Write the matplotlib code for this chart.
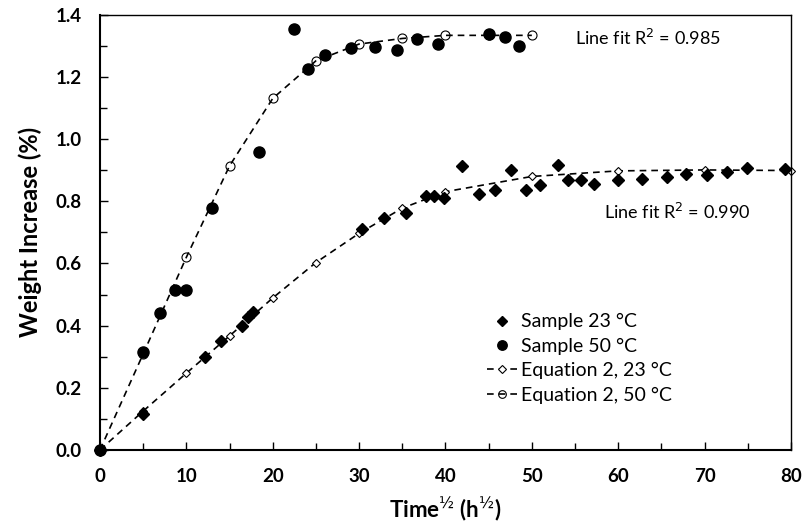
import matplotlib
matplotlib.use("Agg")
import matplotlib.pyplot as plt
from matplotlib.ticker import MultipleLocator

plt.rcParams['font.family'] = ['Lato', 'DejaVu Sans']

# Measured data
x23 = [0, 5.0, 12.15, 14.0, 16.4, 17.1, 17.7, 30.3, 32.9, 35.4, 37.7, 38.7, 39.85, 41.9, 43.9,
       45.7, 47.6, 49.3, 50.96, 53.0, 54.2, 55.7, 57.2, 60.0, 62.8, 65.6, 67.9, 70.3, 72.6, 74.9, 79.3]
y23 = [0, 0.116, 0.300, 0.350, 0.399, 0.427, 0.443, 0.710, 0.747, 0.763, 0.816, 0.816, 0.812, 0.913, 0.824,
       0.838, 0.901, 0.836, 0.854, 0.917, 0.868, 0.868, 0.855, 0.868, 0.871, 0.879, 0.887, 0.886, 0.895, 0.907, 0.903]

x50 = [0, 5.0, 7.0, 8.7, 9.95, 13.0, 18.4, 22.5, 24.1, 26.0, 29.1, 31.8, 34.4, 36.7, 39.1, 45.0, 46.9, 48.5]
y50 = [0, 0.315, 0.44, 0.515, 0.515, 0.78, 0.96, 1.353, 1.226, 1.270, 1.294, 1.297, 1.286, 1.323, 1.307,
       1.338, 1.330, 1.300]

# Equation 2 model values
xe23 = [0, 5, 10, 15, 20, 25, 30, 35, 40, 50, 60, 70, 80]
ye23 = [0, 0.125, 0.247, 0.367, 0.489, 0.603, 0.697, 0.778, 0.831, 0.880, 0.898, 0.901, 0.899]

xe50 = [0, 5, 10, 15, 20, 25, 30, 35, 40, 45, 50]
ye50 = [0, 0.309, 0.620, 0.914, 1.131, 1.252, 1.306, 1.324, 1.334, 1.334, 1.334]

labels = ['Sample 23 °C', 'Sample 50 °C', 'Equation 2, 23 °C', 'Equation 2, 50 °C']
fit_texts = ['Line fit R$^2$ = 0.985', 'Line fit R$^2$ = 0.990']

fig = plt.figure(figsize=(8.03, 5.30), dpi=100)
ax = fig.add_axes([0.1245, 0.151, 0.8605, 0.821])

ax.plot(x23, y23, linestyle='none', marker='D', markersize=6, color='black',
        label=labels[0], clip_on=False, zorder=3)
ax.plot(x50, y50, linestyle='none', marker='o', markersize=8, color='black',
        label=labels[1], clip_on=False, zorder=3)
ax.plot(xe23, ye23, linestyle=(0, (4, 3)), linewidth=1.2, color='black', marker='D',
        markersize=4.5, markerfacecolor='white', markeredgecolor='black', markeredgewidth=0.8,
        label=labels[2], clip_on=False, zorder=2)
ax.plot(xe50, ye50, linestyle=(0, (4, 3)), linewidth=1.2, color='black', marker='o',
        markersize=6.5, markerfacecolor='none', markeredgecolor='black', markeredgewidth=0.8,
        label=labels[3], clip_on=False, zorder=2)

ax.set_xlim(0, 80)
ax.set_ylim(0, 1.4)
ax.xaxis.set_major_locator(MultipleLocator(10))
ax.xaxis.set_minor_locator(MultipleLocator(5))
ax.yaxis.set_major_locator(MultipleLocator(0.2))
ax.yaxis.set_minor_locator(MultipleLocator(0.1))
ax.yaxis.set_major_formatter(matplotlib.ticker.FormatStrFormatter('%.1f'))

ax.tick_params(which='both', direction='in', top=False, right=False, width=1.0)
ax.tick_params(which='major', length=6, labelsize=13.5)
ax.tick_params(axis='x', which='major', pad=13)
ax.tick_params(axis='y', which='major', pad=13)
ax.tick_params(which='minor', length=5)
for lab in ax.get_xticklabels() + ax.get_yticklabels():
    lab.set_fontweight('bold')
for s in ax.spines.values():
    s.set_linewidth(1.0)
ax.spines['left'].set_linewidth(1.5)
ax.spines['bottom'].set_linewidth(1.5)

ax.set_xlabel('Time$^{½}$ (h$^{½}$)', fontsize=16, fontweight='bold', labelpad=8)
ax.set_ylabel('Weight Increase (%)', fontsize=17, fontweight='bold', labelpad=10)

ax.text(0.688, 0.946, fit_texts[0], transform=ax.transAxes, fontsize=13, va='center', ha='left')
ax.text(0.730, 0.548, fit_texts[1], transform=ax.transAxes, fontsize=13, va='center', ha='left')

leg = ax.legend(loc='lower left', bbox_to_anchor=(0.54, 0.075), frameon=False, fontsize=14,
                handlelength=1.6, handletextpad=0.15, labelspacing=0.38, borderpad=0.2,
                markerscale=0.85)

fig.savefig('out.png', dpi=100)
